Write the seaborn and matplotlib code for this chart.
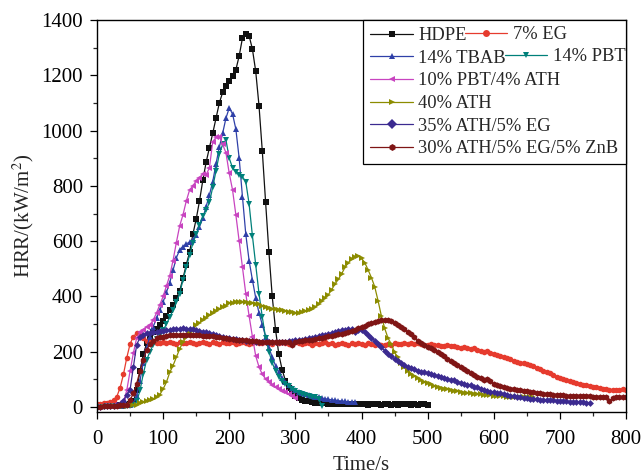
import numpy as np
import matplotlib
matplotlib.use("Agg")
import matplotlib.pyplot as plt
from matplotlib.lines import Line2D
from matplotlib.ticker import MultipleLocator
import seaborn as sns

# ---------------- data (HRR, kW/m2, sampled every 5 s) ----------------
STEP = 5

hdpe = [0, 2, 3, 4, 5, 5, 6, 6, 7, 8,
        10, 20, 60, 130, 190, 230, 255, 270, 282, 295,
        312, 330, 350, 370, 395, 420, 465, 515, 560, 625,
        680, 745, 820, 885, 938, 990, 1045, 1100, 1138, 1162,
        1180, 1196, 1220, 1270, 1335, 1350, 1343, 1295, 1215, 1090,
        925, 740, 560, 400, 280, 190, 135, 95, 70, 52,
        40, 32, 27, 23, 20, 18, 16, 15, 14, 13,
        12, 12, 11, 12, 10, 11, 10, 11, 12, 10,
        11, 10, 9, 10, 11, 10, 9, 10, 10, 9,
        10, 9, 10, 11, 10, 9, 10, 9, 10, 10,
        9]

eg7 = [10, 12, 13, 15, 18, 25, 38, 70, 118, 178,
       228, 255, 267, 262, 250, 240, 236, 234, 233, 231,
       234, 230, 235, 232, 229, 236, 233, 230, 234, 231,
       228, 233, 236, 231, 229, 234, 232, 228, 235, 233,
       230, 234, 229, 233, 236, 231, 228, 233, 235, 230,
       232, 236, 230, 229, 234, 231, 236, 233, 229, 232,
       235, 230, 228, 233, 231, 226, 232, 229, 230, 234,
       228, 231, 226, 229, 233, 227, 224, 230, 228, 232,
       229, 226, 231, 227, 224, 229, 226, 223, 228, 226,
       230, 227, 229, 231, 228, 230, 227, 232, 229, 226,
       225, 227, 223, 226, 222, 220, 223, 219, 221, 218,
       215, 217, 213, 210, 212, 208, 204, 200, 203, 196,
       191, 187, 183, 180, 176, 172, 168, 164, 161, 158,
       156, 153, 147, 142, 137, 132, 127, 122, 116, 110,
       105, 100, 97, 93, 89, 86, 83, 80, 78, 75,
       73, 71, 68, 67, 65, 63, 62, 61, 63, 64,
       62]

tbab14 = [0, 1, 2, 3, 3, 4, 4, 5, 5, 6,
          8, 15, 40, 95, 160, 215, 255, 290, 322, 350,
          380, 415, 450, 495, 540, 568, 580, 590, 597, 605,
          622, 652, 683, 725, 767, 815, 880, 940, 990, 1045,
          1082, 1060, 1005, 900, 760, 625, 530, 460, 395, 340,
          298, 255, 215, 180, 150, 125, 105, 90, 78, 68,
          60, 55, 50, 46, 42, 40, 37, 35, 32, 30,
          28, 26, 25, 23, 22, 20, 19, 18, 17]

pbt14 = [0, 1, 1, 2, 2, 3, 3, 4, 4, 5,
         5, 8, 20, 60, 120, 170, 200, 225, 245, 262,
         278, 300, 325, 350, 380, 410, 460, 505, 550, 592,
         625, 660, 690, 712, 740, 795, 855, 915, 950, 966,
         900, 865, 850, 840, 833, 815, 735, 620, 515, 410,
         325, 250, 200, 160, 130, 110, 95, 85, 75, 66,
         58, 52, 48, 44, 40, 38, 35, 30, 5]

pbt_ath = [0, 1, 2, 3, 4, 6, 8, 12, 20, 60,
           130, 195, 250, 270, 280, 290, 297, 315, 340, 370,
           400, 438, 475, 530, 595, 655, 695, 745, 785, 800,
           818, 830, 842, 840, 865, 960, 975, 978, 950, 920,
           845, 785, 695, 600, 505, 410, 330, 255, 185, 145,
           118, 102, 90, 78, 72, 64, 59, 53, 46, 40,
           32]

ath40 = [0, 1, 1, 2, 2, 3, 3, 4, 4, 5,
         6, 7, 9, 13, 17, 21, 25, 29, 35, 45,
         65, 90, 125, 150, 180, 210, 235, 252, 266, 278,
         295, 305, 315, 322, 332, 339, 348, 355, 362, 367,
         375, 377, 379, 381, 381, 380, 378, 376, 373, 371,
         365, 361, 358, 355, 353, 352, 350, 347, 344, 342,
         341, 341, 343, 347, 352, 356, 363, 372, 385, 395,
         407, 425, 445, 462, 482, 505, 522, 535, 543, 546,
         538, 522, 496, 468, 435, 385, 330, 285, 250, 228,
         198, 180, 158, 143, 131, 121, 113, 105, 97, 91,
         86, 82, 77, 73, 70, 67, 64, 61, 59, 57,
         54, 52, 51, 50, 48, 47, 46, 44, 43, 42,
         41, 40, 40, 39, 38, 38, 37, 37, 36, 36,
         35, 35, 35]

ath35_eg5 = [0, 1, 2, 3, 4, 5, 6, 10, 22, 45,
             62, 145, 225, 252, 262, 266, 268, 270, 272, 274,
             276, 278, 279, 281, 283, 284, 285, 284, 283, 281,
             279, 276, 273, 270, 267, 264, 260, 257, 254, 251,
             249, 247, 245, 243, 241, 240, 240, 238, 237, 236,
             236, 236, 236, 236, 236, 236, 236, 237, 238, 240,
             241, 243, 244, 245, 248, 250, 253, 256, 259, 262,
             265, 268, 271, 274, 277, 279, 281, 282, 272, 280,
             278, 270, 260, 250, 240, 228, 216, 204, 193, 183,
             174, 166, 160, 151, 145, 140, 136, 132, 128, 125,
             122, 118, 115, 111, 108, 105, 102, 99, 96, 92,
             88, 85, 81, 78, 74, 71, 67, 63, 59, 56,
             53, 51, 49, 46, 44, 41, 39, 37, 35, 33,
             31, 30, 29, 28, 27, 26, 25, 25, 24, 23,
             22, 21, 20, 19, 18, 18, 17, 17, 16, 16]

ath30_eg5_znb5 = [0, 1, 2, 3, 3, 4, 5, 6, 7, 9,
                  25, 49, 85, 130, 170, 206, 228, 240, 248, 252,
                  255, 257, 259, 260, 260, 261, 261, 260, 260, 260,
                  259, 259, 258, 258, 257, 256, 254, 252, 250, 248,
                  246, 245, 244, 243, 242, 241, 240, 239, 238, 237,
                  236, 235, 234, 234, 234, 234, 235, 236, 237, 226,
                  236, 238, 240, 241, 242, 244, 246, 248, 250, 253,
                  256, 258, 261, 263, 265, 267, 270, 274, 279, 285,
                  289, 294, 299, 303, 307, 311, 313, 315, 314, 311,
                  304, 297, 289, 281, 272, 263, 254, 238, 230, 224,
                  218, 212, 205, 198, 190, 183, 175, 168, 160, 153,
                  146, 138, 131, 124, 117, 110, 104, 96, 100, 94,
                  84, 80, 76, 73, 70, 67, 64, 62, 60, 58,
                  57, 56, 55, 52, 50, 48, 47, 46, 45, 44,
                  43, 42, 41, 41, 40, 40, 40, 39, 39, 39,
                  38, 38, 38, 37, 37, 22, 33, 35, 35, 35,
                  35]

labels = ["HDPE", "7% EG", "14% TBAB", "14% PBT", "10% PBT/4% ATH",
          "40% ATH", "35% ATH/5% EG", "30% ATH/5% EG/5% ZnB"]
series = [hdpe, eg7, tbab14, pbt14, pbt_ath, ath40, ath35_eg5, ath30_eg5_znb5]
colors = ["#111111", "#E63B2E", "#2F40A8", "#00807A", "#C844C0",
          "#8C8C00", "#3B2A90", "#7F1515"]
markers = ["s", "o", "^", "v", "<", ">", "D", "h"]
msizes = [4.0, 4.0, 4.5, 4.5, 4.5, 4.5, 3.5, 4.5]

x_ticks = [0, 100, 200, 300, 400, 500, 600, 700, 800]
y_ticks = [0, 200, 400, 600, 800, 1000, 1200, 1400]

# ---------------- style ----------------
sns.set_theme(style="ticks")
plt.rcParams["font.family"] = ["Liberation Serif", "DejaVu Serif"]
plt.rcParams["mathtext.fontset"] = "stix"

W, H = 643, 476
fig = plt.figure(figsize=(W / 100, H / 100), dpi=100)
L, R, T, B = 97, 626, 20, 412
ax = fig.add_axes([L / W, 1 - B / H, (R - L) / W, (B - T) / H])

for vals, lab, c, m, ms in zip(series, labels, colors, markers, msizes):
    t = np.arange(len(vals)) * STEP
    sns.lineplot(x=t, y=vals, color=c, marker=m, markersize=ms,
                 markeredgewidth=0, linewidth=0.9, ax=ax,
                 estimator=None, sort=False, legend=False)

ax.set_xlim(0, 800)
ax.set_ylim(-18, 1400)
ax.set_xticks(x_ticks)
ax.set_yticks(y_ticks)
ax.xaxis.set_minor_locator(MultipleLocator(50))
ax.yaxis.set_minor_locator(MultipleLocator(100))
ax.tick_params(axis="both", which="major", direction="out", length=5,
               width=0.9, labelsize=15, colors="black",
               top=False, right=False)
ax.tick_params(axis="x", which="major", pad=8)
ax.tick_params(axis="y", which="major", pad=5)
ax.tick_params(axis="both", which="minor", direction="out", length=3,
               width=0.9, top=False, right=False)
for s in ax.spines.values():
    s.set_visible(True)
    s.set_linewidth(1.0)
    s.set_color("black")

ax.set_xlabel("Time/s", fontsize=15, labelpad=5)
ax.set_ylabel("HRR/(kW/m$^{2}$)", fontsize=15, labelpad=4)
ax.grid(False)

# ---------------- legend (Origin-like layout) ----------------
def handle(i):
    return Line2D([], [], color=colors[i], marker=markers[i], markersize=5,
                  markeredgewidth=0, linewidth=0.9)

common = dict(fontsize=13.3, handlelength=2.3, handletextpad=0.3)
main_idx = [0, 2, 4, 5, 6, 7]
leg1 = ax.legend([handle(i) for i in main_idx], [labels[i] for i in main_idx],
                 loc="upper right", bbox_to_anchor=(1, 1), borderaxespad=0,
                 frameon=True, fancybox=False, edgecolor="black",
                 framealpha=1, labelspacing=0.3, borderpad=0.4, **common)
leg1.get_frame().set_linewidth(0.9)
ax.add_artist(leg1)

leg2 = ax.legend([handle(1)], [labels[1]], loc="center left",
                 bbox_to_anchor=(465 / W, 1 - 34.5 / H),
                 bbox_transform=fig.transFigure, frameon=False,
                 borderpad=0, borderaxespad=0, **common)
ax.add_artist(leg2)
leg3 = ax.legend([handle(3)], [labels[3]], loc="center left",
                 bbox_to_anchor=(505 / W, 1 - 56.5 / H),
                 bbox_transform=fig.transFigure, frameon=False,
                 borderpad=0, borderaxespad=0, **common)

fig.savefig("out.png", dpi=100)
